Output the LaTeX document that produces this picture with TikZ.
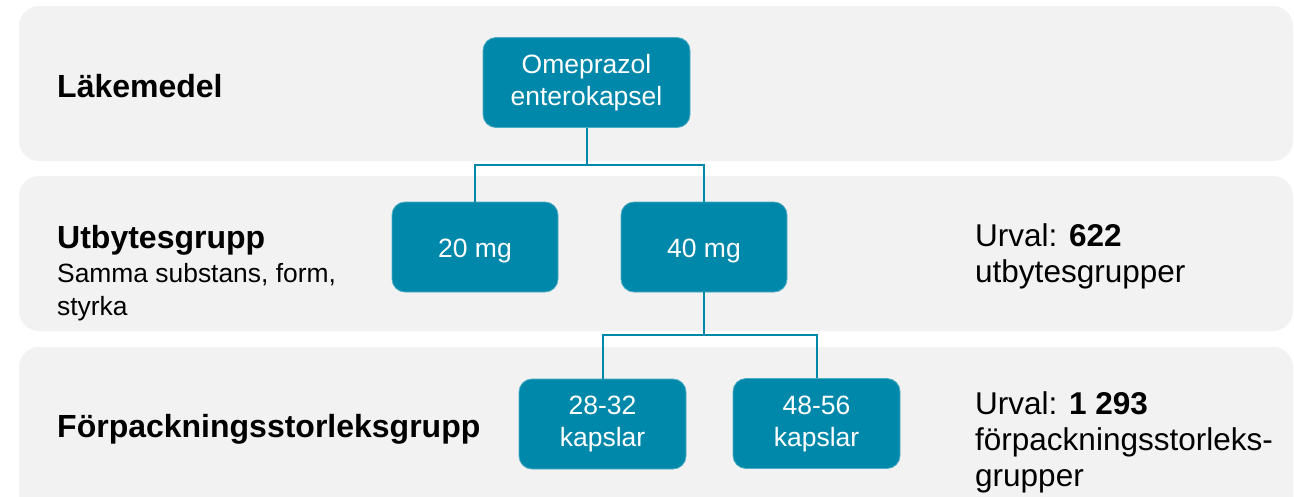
\documentclass[tikz,border=0pt]{standalone}
\usepackage{fontspec}
\setmainfont{Liberation Sans}
\definecolor{boxteal}{RGB}{0,136,170}
\definecolor{bandgray}{RGB}{242,242,242}

\begin{document}
\begin{tikzpicture}[x=1pt,y=-1pt,
  band/.style={fill=bandgray,rounded corners=20},
  box/.style={fill=boxteal,draw=boxteal!70!white,line width=0.8,rounded corners=13,
    text=white,align=center,minimum width=166,minimum height=90,inner sep=0,
    font=\fontsize{26.5}{32}\selectfont,execute at begin node=\rule{0pt}{27pt}},
  conn/.style={draw=boxteal,line width=2},
  lbl/.style={anchor=base west,inner sep=0,font=\fontsize{32}{37}\selectfont\bfseries},
  sub/.style={anchor=base west,inner sep=0,align=left,font=\fontsize{26.4}{33}\selectfont},
  urval/.style={anchor=base west,inner sep=0,align=left,font=\fontsize{31.5}{36}\selectfont}]

\useasboundingbox (0,0) rectangle (1294,496);

\fill[band] (19,6) rectangle (1293,161);
\fill[band] (19,176) rectangle (1293,331);
\fill[band] (19,347) rectangle (1293,540);

\node[lbl] (lak) at (57,97) {Läkemedel};
\node[lbl] (utb) at (57,248) {Utbytesgrupp};
\node[sub] (utbsub) at (57,315) {Samma substans, form,\\styrka};
\node[lbl] (forp) at (57,437) {Förpackningsstorleksgrupp};

\node[box,minimum width=207] (omep) at (586.5,82.5) {Omeprazol\\enterokapsel};
\node[box] (m20) at (475,247) {20 mg};
\node[box] (m40) at (704,247) {40 mg};
\node[box,minimum width=167] (k28) at (602.5,424) {28-32\\kapslar};
\node[box,minimum width=167] (k48) at (816.5,423.5) {48-56\\kapslar};

\draw[conn] (omep.south) -- ++(0,37) -| (m20.north);
\draw[conn] (omep.south) -- ++(0,37) -| (m40.north);
\draw[conn] (m40.south) -- ++(0,43) -| (k28.north);
\draw[conn] (m40.south) -- ++(0,43) -| (k48.north);

\node[urval] (urv1) at (975,282) {Urval: \textbf{622}\\utbytesgrupper};
\node[urval] (urv2) at (975,486) {Urval: \textbf{1 293}\\förpackningsstorleks-\\grupper};

\end{tikzpicture}
\end{document}
